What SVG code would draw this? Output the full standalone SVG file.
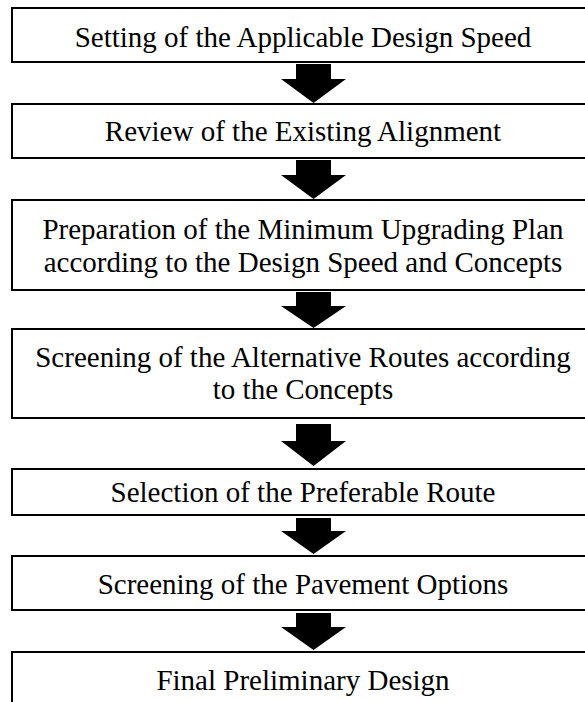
<svg xmlns="http://www.w3.org/2000/svg" width="585" height="702" viewBox="0 0 585 702">
  <style>
    .box { fill: #ffffff; stroke: #000000; stroke-width: 2; }
    .label { font-family: "Liberation Serif", "Times New Roman", serif; font-size: 29px; fill: #000000; text-anchor: middle; }
    .arrow { fill: #000000; stroke: none; }
  </style>
  <rect width="585" height="702" fill="#ffffff"/>

  <!-- process steps; boxes run past the right edge -->
  <g id="step-design-speed">
    <rect class="box" x="12" y="8" width="584" height="54"/>
    <text class="label" x="303" y="47">Setting of the Applicable Design Speed</text>
  </g>
  <g id="step-existing-alignment">
    <rect class="box" x="12" y="104" width="584" height="54"/>
    <text class="label" x="303" y="141">Review of the Existing Alignment</text>
  </g>
  <g id="step-minimum-upgrading">
    <rect class="box" x="12" y="200" width="584" height="90"/>
    <text class="label" x="303" y="239">Preparation of the Minimum Upgrading Plan</text>
    <text class="label" x="303" y="272">according to the Design Speed and Concepts</text>
  </g>
  <g id="step-alternative-routes">
    <rect class="box" x="12" y="329" width="584" height="89"/>
    <text class="label" x="303" y="367">Screening of the Alternative Routes according</text>
    <text class="label" x="303" y="399">to the Concepts</text>
  </g>
  <g id="step-preferable-route">
    <rect class="box" x="12" y="469" width="584" height="46"/>
    <text class="label" x="303" y="502">Selection of the Preferable Route</text>
  </g>
  <g id="step-pavement-options">
    <rect class="box" x="12" y="556" width="584" height="54"/>
    <text class="label" x="303" y="594">Screening of the Pavement Options</text>
  </g>
  <g id="step-final-design">
    <rect class="box" x="12" y="652" width="584" height="60"/>
    <text class="label" x="303" y="690">Final Preliminary Design</text>
  </g>

  <!-- block arrows between steps -->
  <g id="connectors">
    <path class="arrow" d="M296,64 H331 V79 H346 L313.5,103 L281,79 H296 Z"/>
    <path class="arrow" d="M296,160 H331 V175 H346 L313.5,199 L281,175 H296 Z"/>
    <path class="arrow" d="M296,292 H331 V306 H346 L313.5,328 L281,306 H296 Z"/>
    <path class="arrow" d="M296,424 H331 V441 H346 L313.5,466 L281,441 H296 Z"/>
    <path class="arrow" d="M296,518 H331 V531 H346 L313.5,554 L281,531 H296 Z"/>
    <path class="arrow" d="M296,613 H331 V627 H346 L313.5,650 L281,627 H296 Z"/>
  </g>
</svg>
